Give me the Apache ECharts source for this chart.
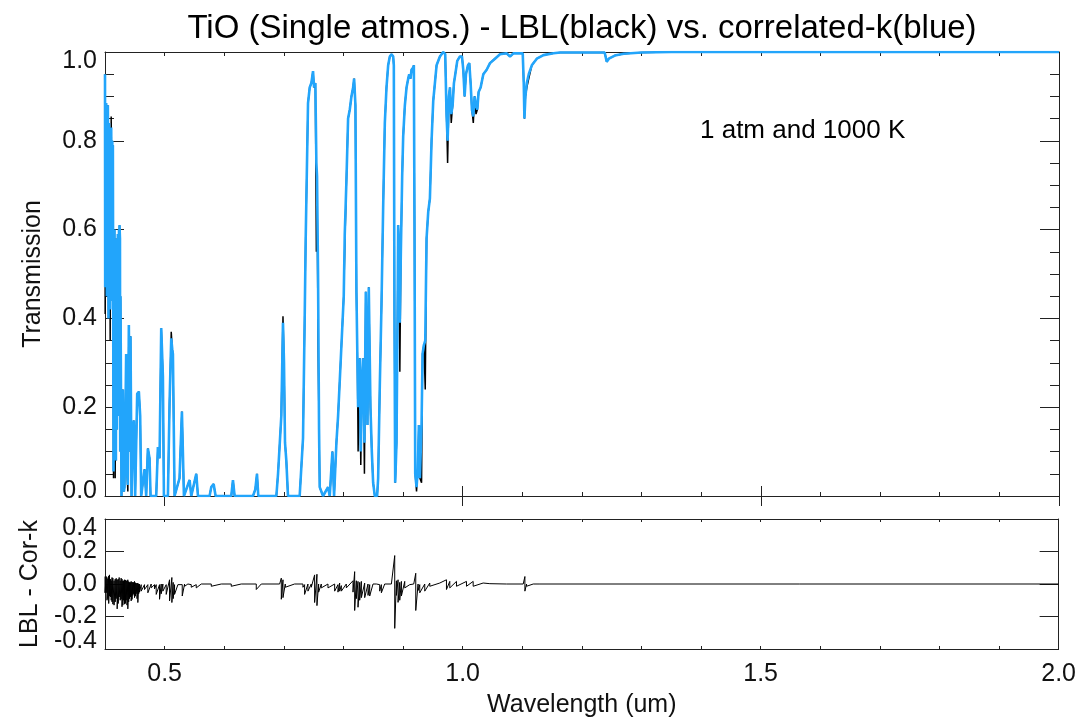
<!DOCTYPE html>
<html>
<head>
<meta charset="utf-8">
<script src="https://cdn.jsdelivr.net/npm/echarts@6/dist/echarts.min.js"></script>
<style>
html,body{margin:0;padding:0;background:#fff;}
#chart{width:1079px;height:719px;}
</style>
</head>
<body>
<div id="chart"></div>
<script>
// ---- data ----
const wavelength = [
0.4000,0.4003,0.4010,0.4015,0.4020,0.4031,0.4039,0.4043,0.4048,0.4059,
0.4067,0.4071,0.4076,0.4087,0.4093,0.4098,0.4104,0.4115,0.4122,0.4127,
0.4132,0.4143,0.4151,0.4155,0.4159,0.4171,0.4179,0.4183,0.4187,0.4199,
0.4207,0.4211,0.4215,0.4227,0.4235,0.4239,0.4243,0.4251,0.4255,0.4260,
0.4277,0.4299,0.4316,0.4327,0.4355,0.4372,0.4383,0.4400,0.4417,0.4428,
0.4445,0.4467,0.4484,0.4506,0.4540,0.4568,0.4590,0.4607,0.4635,0.4663,
0.4691,0.4719,0.4747,0.4764,0.4859,0.4887,0.4915,0.4943,0.4954,0.4971,
0.4988,0.5055,0.5083,0.5100,0.5111,0.5128,0.5139,0.5167,0.5250,0.5290,
0.5324,0.5419,0.5447,0.5531,0.5559,0.5754,0.5782,0.5822,0.5855,0.6118,
0.6146,0.6174,0.6482,0.6521,0.6549,0.6571,0.6874,0.6902,0.6957,0.6985,
0.7002,0.7019,0.7041,0.7069,0.7265,0.7321,0.7349,0.7366,0.7405,0.7433,
0.7461,0.7489,0.7506,0.7528,0.7545,0.7556,0.7573,0.7590,0.7601,0.7657,
0.7741,0.7769,0.7797,0.7814,0.7842,0.7881,0.7909,0.7948,0.7976,0.8004,
0.8021,0.8049,0.8077,0.8105,0.8133,0.8161,0.8178,0.8200,0.8217,0.8234,
0.8245,0.8273,0.8290,0.8307,0.8329,0.8351,0.8374,0.8402,0.8424,0.8452,
0.8475,0.8497,0.8525,0.8564,0.8581,0.8609,0.8637,0.8665,0.8693,0.8721,
0.8749,0.8777,0.8805,0.8833,0.8844,0.8855,0.8867,0.8889,0.8906,0.8917,
0.8934,0.8945,0.8962,0.8984,0.9001,0.9029,0.9057,0.9085,0.9102,0.9124,
0.9141,0.9169,0.9180,0.9191,0.9203,0.9225,0.9247,0.9264,0.9281,0.9309,
0.9326,0.9348,0.9371,0.9393,0.9421,0.9449,0.9477,0.9505,0.9533,0.9561,
0.9617,0.9673,0.9706,0.9729,0.9746,0.9768,0.9785,0.9807,0.9830,0.9852,
0.9875,0.9908,0.9953,0.9987,1.0009,1.0031,1.0054,1.0087,1.0110,1.0132,
1.0154,1.0177,1.0199,1.0222,1.0244,1.0266,1.0300,1.0345,1.0401,1.0457,
1.0541,1.0625,1.0737,1.0793,1.0849,1.0933,1.1006,1.1023,1.1034,1.1051,
1.1074,1.1107,1.1158,1.1242,1.1354,1.1522,1.1634,1.2000,1.2380,1.2415,
1.2450,1.2550,1.2700,1.3000,1.3500,2.0000
];
// correlated-k (blue)
const corK = [
0.95,0.47,0.86,0.50,0.885,0.45,0.85,0.48,0.88,0.40,
0.84,0.45,0.83,0.42,0.82,0.44,0.83,0.50,0.80,0.55,
0.79,0.055,0.57,0.10,0.60,0.12,0.55,0.08,0.58,0.15,
0.57,0.18,0.59,0.20,0.60,0.25,0.61,0.58,0.10,0.45,
0.0,0.24,0.01,0.02,0.32,0.05,0.025,0.385,0.10,0.36,
0.0,0.15,0.17,0.0,0.23,0.235,0.18,0.0,0.03,0.06,
0.0,0.107,0.085,0.0,0.0,0.11,0.085,0.378,0.375,0.27,
0.0,0.0,0.21,0.30,0.355,0.33,0.32,0.0,0.04,0.19,
0.0,0.036,0.0,0.05,0.0,0.0,0.02,0.027,0.0,0.0,
0.036,0.0,0.0,0.015,0.05,0.0,0.0,0.05,0.18,0.39,
0.30,0.12,0.08,0.0,0.0,0.13,0.40,0.58,0.885,0.92,
0.93,0.957,0.92,0.93,0.75,0.72,0.50,0.15,0.02,0.0,
0.02,0.0,0.0,0.10,0.0,0.12,0.18,0.29,0.29,0.45,
0.59,0.71,0.85,0.87,0.90,0.92,0.94,0.88,0.46,0.30,
0.20,0.31,0.10,0.25,0.31,0.12,0.46,0.16,0.47,0.20,
0.10,0.03,0.0,0.0,0.04,0.25,0.43,0.65,0.84,0.92,
0.97,0.99,0.995,0.99,0.97,0.40,0.03,0.12,0.40,0.61,
0.55,0.39,0.55,0.72,0.81,0.88,0.92,0.94,0.95,0.94,
0.96,0.965,0.97,0.60,0.05,0.02,0.06,0.16,0.04,0.16,
0.32,0.34,0.35,0.58,0.64,0.67,0.80,0.89,0.93,0.97,
0.99,1.0,0.995,0.855,0.80,0.90,0.92,0.86,0.88,0.93,
0.95,0.98,0.99,0.99,0.96,0.90,0.95,0.97,0.975,0.93,
0.87,0.855,0.90,0.88,0.87,0.91,0.92,0.95,0.96,0.975,
0.985,0.995,0.997,0.99,0.997,0.997,0.997,0.93,0.85,0.90,
0.93,0.95,0.97,0.985,0.993,0.997,0.999,0.999,0.999,0.978,
0.985,0.992,0.996,0.999,1.0,1.0
];
// line-by-line (black)
const lbl = [
0.95,0.41,0.86,0.50,0.885,0.45,0.85,0.48,0.88,0.40,
0.84,0.45,0.83,0.35,0.82,0.44,0.855,0.50,0.80,0.55,
0.79,0.04,0.57,0.10,0.60,0.04,0.55,0.08,0.58,0.15,
0.57,0.18,0.59,0.20,0.60,0.25,0.61,0.58,0.10,0.45,
0.0,0.24,0.01,0.02,0.32,0.05,0.01,0.385,0.10,0.36,
0.0,0.15,0.17,0.0,0.23,0.235,0.18,0.0,0.03,0.06,
0.0,0.107,0.085,0.0,0.0,0.11,0.085,0.378,0.375,0.27,
0.0,0.0,0.21,0.30,0.37,0.33,0.32,0.0,0.04,0.19,
0.0,0.036,0.0,0.05,0.0,0.0,0.02,0.027,0.0,0.0,
0.036,0.0,0.0,0.015,0.05,0.0,0.0,0.05,0.18,0.405,
0.30,0.12,0.08,0.0,0.0,0.13,0.40,0.58,0.885,0.92,
0.93,0.957,0.92,0.93,0.55,0.72,0.35,0.15,0.02,0.0,
0.02,0.0,0.0,0.10,0.0,0.12,0.18,0.29,0.29,0.45,
0.56,0.71,0.85,0.87,0.90,0.92,0.94,0.88,0.46,0.30,
0.10,0.31,0.07,0.25,0.31,0.05,0.46,0.16,0.47,0.20,
0.10,0.03,0.0,0.0,0.04,0.25,0.43,0.65,0.84,0.92,
0.97,0.99,0.995,0.99,0.97,0.40,0.03,0.12,0.40,0.61,
0.55,0.28,0.55,0.72,0.81,0.88,0.92,0.94,0.95,0.94,
0.96,0.965,0.97,0.60,0.05,0.01,0.06,0.16,0.04,0.03,
0.32,0.34,0.24,0.58,0.64,0.67,0.80,0.89,0.93,0.97,
0.99,1.0,0.995,0.855,0.75,0.90,0.92,0.84,0.88,0.93,
0.95,0.98,0.99,0.99,0.96,0.90,0.95,0.97,0.975,0.93,
0.87,0.84,0.90,0.86,0.87,0.91,0.92,0.95,0.96,0.975,
0.985,0.995,0.997,0.99,0.997,0.997,0.997,0.93,0.85,0.90,
0.92,0.94,0.97,0.985,0.993,0.997,0.999,0.999,0.999,0.978,
0.985,0.992,0.996,0.999,1.0,1.0
];
// LBL - Cor-k difference: upper and lower excursion at each wavelength
const diffWavelength = [
0.4000,0.4020,0.4034,0.4048,0.4062,0.4076,0.4090,0.4104,0.4118,0.4132,
0.4152,0.4171,0.4188,0.4204,0.4221,0.4238,0.4255,0.4271,0.4285,0.4299,
0.4313,0.4327,0.4341,0.4355,0.4369,0.4383,0.4397,0.4411,0.4425,0.4439,
0.4453,0.4467,0.4481,0.4495,0.4509,0.4523,0.4537,0.4551,0.4565,0.4579,
0.4607,0.4663,0.4719,0.4775,0.4831,0.4859,0.4915,0.4943,0.4971,0.5027,
0.5083,0.5122,0.5144,0.5167,0.5223,0.5296,0.5335,0.5391,0.5447,0.5531,
0.5615,0.5783,0.5951,0.6118,0.6286,0.6538,0.6622,0.6930,0.6958,0.6986,
0.7025,0.7181,0.7321,0.7349,0.7405,0.7461,0.7517,0.7556,0.7584,0.7629,
0.7741,0.7853,0.7909,0.7937,0.7965,0.8049,0.8161,0.8189,0.8217,0.8245,
0.8273,0.8301,0.8357,0.8413,0.8441,0.8497,0.8553,0.8609,0.8637,0.8693,
0.8805,0.8861,0.8889,0.8917,0.8945,0.8973,0.9029,0.9113,0.9180,0.9214,
0.9253,0.9281,0.9365,0.9449,0.9617,0.9729,0.9785,0.9897,1.0065,1.0177,
1.0345,1.0457,1.0737,1.1017,1.1045,1.1073,1.1185,1.1297,2.0000
];
const diffHigh = [
0.046,0.046,0.040,0.030,0.050,0.056,0.030,0.020,0.040,0.036,
0.020,0.030,0.035,0.026,0.030,0.040,0.020,0.036,0.030,0.020,
0.020,0.026,0.025,0.020,0.020,0.026,0.015,0.010,0.010,0.016,
0.012,0.010,0.010,0.016,0.008,0.005,0.004,0.006,0.000,0.000,
-0.004,-0.004,-0.004,0.000,-0.004,-0.004,-0.004,0.000,0.000,-0.004,
0.026,0.040,0.010,-0.004,-0.004,-0.004,0.000,0.000,-0.004,-0.004,
0.000,0.000,0.000,0.000,0.000,0.000,0.000,0.000,0.036,0.026,
0.000,0.000,0.000,-0.004,0.000,0.000,0.056,0.060,0.000,0.000,
0.000,0.000,-0.004,0.006,-0.010,0.000,0.020,0.076,0.020,0.016,
0.010,0.016,0.006,0.000,-0.004,0.000,0.000,-0.004,-0.004,0.000,
0.000,0.175,0.020,0.026,0.010,0.016,0.016,-0.004,0.000,0.066,
0.000,-0.004,0.000,0.006,0.006,0.026,0.016,0.016,0.016,0.016,
0.006,0.002,0.000,0.000,0.046,0.000,0.000,0.000,0.000
];
const diffLow = [
-0.054,-0.054,-0.100,-0.090,-0.120,-0.074,-0.080,-0.100,-0.110,-0.124,
-0.130,-0.110,-0.090,-0.153,-0.120,-0.080,-0.100,-0.094,-0.140,-0.130,
-0.100,-0.124,-0.120,-0.100,-0.130,-0.153,-0.110,-0.090,-0.080,-0.104,
-0.095,-0.070,-0.060,-0.084,-0.075,-0.060,-0.090,-0.114,-0.060,-0.050,
-0.044,-0.034,-0.054,-0.024,-0.030,-0.064,-0.094,-0.060,-0.044,-0.064,
-0.104,-0.114,-0.090,-0.064,-0.014,-0.074,-0.014,-0.010,-0.020,-0.024,
-0.006,-0.014,-0.004,-0.014,0.000,-0.034,0.000,-0.004,-0.094,-0.084,
-0.020,0.000,-0.020,-0.064,-0.044,-0.020,-0.114,-0.133,-0.050,-0.024,
-0.024,-0.044,-0.050,-0.044,-0.044,-0.024,-0.050,-0.163,-0.090,-0.143,
-0.100,-0.084,-0.084,-0.070,-0.074,-0.004,-0.004,-0.044,-0.054,-0.004,
-0.010,-0.273,-0.070,-0.113,-0.100,-0.074,-0.024,-0.014,-0.010,-0.163,
-0.040,-0.054,-0.044,-0.014,0.000,-0.034,-0.024,-0.014,-0.014,-0.014,
-0.004,-0.002,-0.002,0.000,-0.044,-0.014,-0.004,0.000,0.000
];
const xMajorTicks = [0.5, 1.0, 1.5, 2.0];
const topInnerLabels = [0.2, 0.4, 0.6, 0.8];
const bottomInnerLabels = [-0.2, 0.0, 0.2];
const titleText = 'TiO (Single atmos.) - LBL(black) vs. correlated-k(blue)';
const noteText = '1 atm and 1000 K';

// ---- build series data ----
const blueData = wavelength.map((w, i) => [w, corK[i]]);
const blackData = wavelength.map((w, i) => [w, lbl[i]]);
const diffData = [];
diffWavelength.forEach((w, i) => {
  diffData.push([w, diffHigh[i]]);
  diffData.push([w, diffLow[i]]);
});

const FONT = '"Liberation Sans", Arial, Helvetica, sans-serif';
const AX = '#222';
const fmt = v => (Math.abs(v) < 1e-9 ? 0 : v).toFixed(1);

function xAx(grid, pos, opts) {
  return Object.assign({
    type: 'value', gridIndex: grid, position: pos, min: 0.4, max: 2.0, interval: 0.1,
    splitLine: {show: false},
    axisLine: {show: true, onZero: false, lineStyle: {color: AX, width: 1}},
    axisTick: {show: true, inside: true, length: 4, lineStyle: {color: AX, width: 1}},
    axisLabel: {show: false}
  }, opts || {});
}
function yAx(grid, pos, min, max, opts) {
  return Object.assign({
    type: 'value', gridIndex: grid, position: pos, min: min, max: max, interval: 0.2,
    splitLine: {show: false},
    axisLine: {show: true, onZero: false, lineStyle: {color: AX, width: 1}},
    axisTick: {show: true, inside: true, length: 19, lineStyle: {color: AX, width: 1}},
    axisLabel: {show: false}
  }, opts || {});
}
function labelStyle(values, extra) {
  return Object.assign({show: true, customValues: values, fontSize: 25, fontFamily: FONT,
    color: '#111', margin: 8, showMinLabel: true, showMaxLabel: true, formatter: fmt,
    padding: [5, 0, 0, 0]}, extra || {});
}
// label-only axis for an edge value, nudged inward as in the reference
function edgeAx(grid, min, max, value, vAlign, lh) {
  return yAx(grid, 'left', min, max, {
    axisLine: {show: false}, axisTick: {show: false},
    axisLabel: labelStyle([value], {verticalAlign: vAlign, lineHeight: lh, padding: 0})
  });
}
const nameStyle = {fontSize: 25, fontFamily: FONT, color: '#111'};

const option = {
  animation: false,
  backgroundColor: '#ffffff',
  grid: [
    {left: 105, right: 20, top: 52, bottom: 223},
    {left: 105, right: 20, top: 519, bottom: 66}
  ],
  xAxis: [
    xAx(0, 'bottom'),
    xAx(0, 'top'),
    xAx(0, 'bottom', {axisLine: {show: false}, axisTick: {show: true, inside: true, length: 10, customValues: xMajorTicks, lineStyle: {color: AX}}}),
    xAx(0, 'top', {axisLine: {show: false}, axisTick: {show: true, inside: true, length: 10, customValues: xMajorTicks, lineStyle: {color: AX}}}),
    xAx(1, 'bottom', {
      axisTick: {show: true, inside: true, length: 3, lineStyle: {color: AX}},
      axisLabel: {show: true, customValues: xMajorTicks, fontSize: 25, fontFamily: FONT, color: '#111', margin: 13, formatter: fmt},
      name: 'Wavelength (um)', nameLocation: 'middle', nameGap: 44, nameTextStyle: nameStyle
    }),
    xAx(1, 'top', {axisTick: {show: true, inside: true, length: 3, lineStyle: {color: AX}}})
  ],
  yAxis: [
    yAx(0, 'left', 0, 1, {
      axisLabel: labelStyle(topInnerLabels),
      minorTick: {show: true, splitNumber: 4, length: 9, lineStyle: {color: AX}},
      name: 'Transmission', nameLocation: 'middle', nameGap: 59, nameTextStyle: nameStyle
    }),
    yAx(0, 'right', 0, 1, {
      minorTick: {show: true, splitNumber: 4, length: 9, lineStyle: {color: AX}}
    }),
    yAx(1, 'left', -0.4, 0.4, {
      axisLabel: labelStyle(bottomInnerLabels),
      name: 'LBL - Cor-k', nameLocation: 'middle', nameGap: 61, nameTextStyle: nameStyle
    }),
    yAx(1, 'right', -0.4, 0.4),
    edgeAx(0, 0, 1, 1.0, 'top', 18),
    edgeAx(0, 0, 1, 0.0, 'bottom', 9),
    edgeAx(1, -0.4, 0.4, 0.4, 'top', 18),
    edgeAx(1, -0.4, 0.4, -0.4, 'bottom', 15)
  ],
  series: [
    {type: 'line', name: 'LBL', xAxisIndex: 0, yAxisIndex: 0, data: blackData,
     showSymbol: false, symbol: 'none', z: 2, lineStyle: {color: '#000', width: 1.5}},
    {type: 'line', name: 'correlated-k', xAxisIndex: 0, yAxisIndex: 0, data: blueData,
     showSymbol: false, symbol: 'none', z: 3, lineStyle: {color: '#22A5FB', width: 2.6}},
    {type: 'line', name: 'LBL - Cor-k', xAxisIndex: 4, yAxisIndex: 2, data: diffData,
     showSymbol: false, symbol: 'none', z: 2, lineStyle: {color: '#000', width: 1}}
  ],
  graphic: [
    {type: 'text', x: 582, y: 29, style: {text: titleText, font: '33px ' + FONT, fill: '#000',
      align: 'center', verticalAlign: 'middle', textAlign: 'center', textVerticalAlign: 'middle'}},
    {type: 'text', x: 700, y: 131, style: {text: noteText, font: '26px ' + FONT, fill: '#000',
      align: 'left', verticalAlign: 'middle', textAlign: 'left', textVerticalAlign: 'middle'}}
  ]
};

const chart = echarts.init(document.getElementById('chart'), null, {renderer: 'canvas'});
chart.setOption(option);
</script>
</body>
</html>
